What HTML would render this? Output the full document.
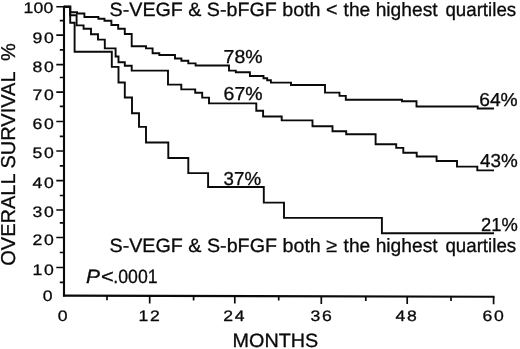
<!DOCTYPE html>
<html>
<head>
<meta charset="utf-8">
<title>Overall survival</title>
<style>
html,body{margin:0;padding:0;background:#fff;}
body{width:520px;height:349px;overflow:hidden;}
svg{display:block;filter:grayscale(1);}
text{font-family:"Liberation Sans",Arial,Helvetica,sans-serif;fill:#0a0a0a;stroke:#0a0a0a;stroke-width:0.3;text-rendering:geometricPrecision;}
.c{fill:none;stroke:#0a0a0a;stroke-width:1.9;stroke-linejoin:miter;stroke-linecap:butt;}
.ax{fill:none;stroke:#0a0a0a;stroke-width:2.1;stroke-linecap:butt;}
.tk{fill:none;stroke:#0a0a0a;stroke-width:1.7;stroke-linecap:butt;}
</style>
</head>
<body>
<svg width="520" height="349" viewBox="0 0 520 349">
<rect width="520" height="349" fill="#ffffff"/>

<!-- axes -->
<path class="ax" d="M64,5.85 V296.4"/>
<path class="ax" d="M62.95,295.6 L494.55,296.7"/>
<!-- y major ticks -->
<path class="tk" d="M56.3,6.75H64 M56.3,35.2H64 M56.3,64.6H64 M56.3,92.1H64 M56.3,121.5H64 M56.3,151H64 M56.3,180.6H64 M56.3,210H64 M56.3,237.5H64 M56.3,267.5H64"/>
<!-- y minor ticks -->
<path class="tk" d="M59.8,20.6H64 M59.8,49.8H64 M59.8,77.5H64 M59.8,106.4H64 M59.8,136.4H64 M59.8,165.8H64 M59.8,195.5H64 M59.8,222.9H64 M59.8,252.5H64 M59.8,282.3H64"/>
<!-- x major ticks -->
<path class="tk" d="M149.7,295.8V303.4 M234.8,296.0V303.6 M321.3,296.3V303.9 M407.2,296.5V304.1 M493.6,296.7V304.3"/>
<!-- x minor ticks -->
<path class="tk" d="M107.0,295.7V300.2 M193.6,295.9V300.4 M278.7,296.1V300.6 M365.8,296.4V300.9 M451.0,296.6V301.1"/>

<!-- curves -->
<path class="c" d="M64,6.75 H70.2 V12.2 H77 V13.5 H84.4 V17 H98.4 V18.8 H104.5 V20.8 H111.4 V25 H118.2 V28.8 H124.8 V34 H131.7 V46.2 H146 V48.4 H152.6 V53.2 H159.3 V55 H175 V58.5 H181.4 V60.8 H188.3 V63.4 H195.6 V65.5 H229 V70.6 H235.8 V72.3 H249.9 V76 H263.5 V78.3 H267.2 V80.3 H270.9 V82.6 H291 V85 H325 V92.6 H339.5 V95.9 H345.8 V99.7 H402 V101.2 H416.5 V106.5 H477.7 V108.5 H494"/>
<path class="c" d="M64,6.75 H70.2 V15.3 H76.6 V25.4 H83.6 V28.8 H91 V34.2 H98 V39.6 H104.8 V48.4 H115.6 V56.5 H118.5 V62.3 H124.8 V65.8 H131.7 V70.6 H168 V84.6 H181.3 V89.4 H195.2 V92.8 H202.2 V97.6 H209 V103.4 H256.3 V110.8 H263.1 V116.5 H281.7 V120.4 H312.5 V126.2 H332.5 V131.2 H346.2 V134.2 H375.6 V144.2 H396.2 V147.9 H403.3 V152.7 H416.7 V156.5 H436.6 V161 H457 V166.6 H477.3 V170.4 H494"/>
<path class="c" d="M64,6.75 H70.2 V22.8 H74.6 V51.8 H111.8 V66.9 H118.5 V82.5 H124.8 V97.5 H132 V113.3 H139 V126.9 H146 V142.5 H168.3 V158 H188.3 V173.1 H208.1 V187 H263.8 V202.6 H284 V217.9 H381.9 V233.2 H494"/>

<!-- y tick labels -->
<g font-size="15.2" id="yl">
<text transform="translate(23.4,12.6) scale(1.16,1)" letter-spacing="0.2">100</text>
<text transform="translate(32.4,42.8) scale(1.16,1)" letter-spacing="1.45">90</text>
<text transform="translate(32.4,72.1) scale(1.16,1)" letter-spacing="1.45">80</text>
<text transform="translate(32.4,99.6) scale(1.16,1)" letter-spacing="1.45">70</text>
<text transform="translate(32.4,128.7) scale(1.16,1)" letter-spacing="1.45">60</text>
<text transform="translate(32.4,158.2) scale(1.16,1)" letter-spacing="1.45">50</text>
<text transform="translate(32.4,187.9) scale(1.16,1)" letter-spacing="1.45">40</text>
<text transform="translate(32.4,217.3) scale(1.16,1)" letter-spacing="1.45">30</text>
<text transform="translate(32.4,245.3) scale(1.16,1)" letter-spacing="1.45">20</text>
<text transform="translate(32.4,274.7) scale(1.16,1)" letter-spacing="1.45">10</text>
<text transform="translate(42.8,301.0) scale(1.16,1)" letter-spacing="0">0</text>
</g>

<!-- x tick labels -->
<g font-size="15.2" id="xl">
<text transform="translate(57.8,320.9) scale(1.16,1)" letter-spacing="1.45">0</text>
<text transform="translate(138.4,320.9) scale(1.16,1)" letter-spacing="1.45">12</text>
<text transform="translate(223.3,320.9) scale(1.16,1)" letter-spacing="1.45">24</text>
<text transform="translate(310.6,320.9) scale(1.16,1)" letter-spacing="1.45">36</text>
<text transform="translate(395.6,320.9) scale(1.16,1)" letter-spacing="1.45">48</text>
<text transform="translate(482.6,320.9) scale(1.16,1)" letter-spacing="1.45">60</text>
</g>

<!-- titles -->
<g font-size="19.3">
<text x="109.6" y="15.6" textLength="227.9" lengthAdjust="spacingAndGlyphs">S-VEGF &amp; S-bFGF both &lt;</text>
<text x="343.6" y="15.6" textLength="94" lengthAdjust="spacingAndGlyphs">the highest</text>
<text x="445.4" y="15.6" textLength="70.8" lengthAdjust="spacingAndGlyphs">quartiles</text>
<text x="109.5" y="251.5" textLength="227.6" lengthAdjust="spacingAndGlyphs">S-VEGF &amp; S-bFGF both ≥</text>
<text x="343.6" y="251.5" textLength="94" lengthAdjust="spacingAndGlyphs">the highest</text>
<text x="445.4" y="251.5" textLength="70.8" lengthAdjust="spacingAndGlyphs">quartiles</text>
<text x="232.6" y="347.1" textLength="85.6" lengthAdjust="spacingAndGlyphs">MONTHS</text>
<text x="86.1" y="282.5" font-style="italic" textLength="14" lengthAdjust="spacingAndGlyphs">P</text>
<text x="101.0" y="282.5" textLength="12.8" lengthAdjust="spacingAndGlyphs">&lt;</text>
<text x="113.3" y="282.5" textLength="44.3" lengthAdjust="spacingAndGlyphs">.0001</text>
<text transform="translate(15.3,265.8) rotate(-90)" x="0" y="0" font-size="20" textLength="222.6" lengthAdjust="spacingAndGlyphs" xml:space="preserve">OVERALL SURVIVAL  %</text>
</g>

<!-- percent labels -->
<g font-size="18.8">
<text x="223.6" y="62.8" textLength="39" lengthAdjust="spacingAndGlyphs">78%</text>
<text x="223.6" y="100.2" textLength="39" lengthAdjust="spacingAndGlyphs">67%</text>
<text x="223.6" y="184.7" textLength="37.5" lengthAdjust="spacingAndGlyphs">37%</text>
<text x="479.2" y="106.3" textLength="38.5" lengthAdjust="spacingAndGlyphs">64%</text>
<text x="480" y="167" textLength="37.7" lengthAdjust="spacingAndGlyphs">43%</text>
<text x="481" y="230.9" textLength="36.7" lengthAdjust="spacingAndGlyphs">21%</text>
</g>
</svg>
</body>
</html>
